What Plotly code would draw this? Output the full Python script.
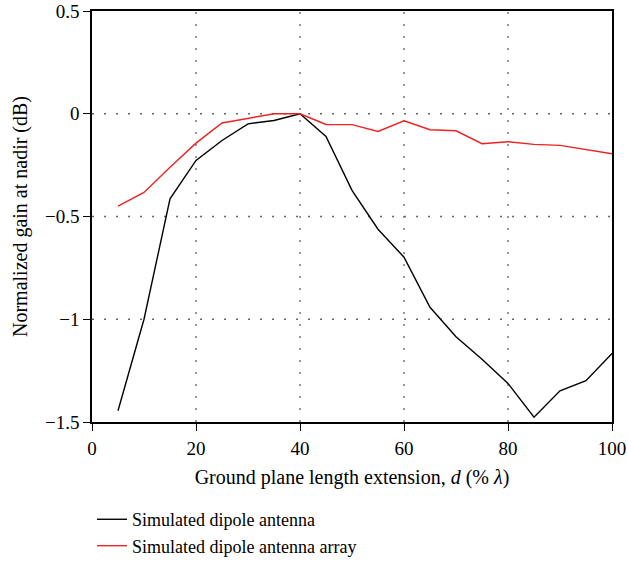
import plotly.graph_objects as go

# Ground plane length extension d (% of wavelength)
d_percent = [5, 10, 15, 20, 25, 30, 35, 40, 45, 50, 55, 60, 65, 70, 75, 80, 85, 90, 95, 100]

# Normalized gain at nadir (dB)
gain_dipole = [-1.445, -1.0, -0.414, -0.227, -0.130, -0.049, -0.033, 0.0, -0.110, -0.373,
               -0.562, -0.698, -0.942, -1.085, -1.195, -1.312, -1.477, -1.348, -1.299, -1.166]
gain_array = [-0.45, -0.383, -0.26, -0.143, -0.045, -0.021, 0.0, 0.0, -0.052, -0.053,
              -0.086, -0.034, -0.078, -0.083, -0.146, -0.136, -0.149, -0.154, -0.175, -0.195]

x_ticks = [0, 20, 40, 60, 80, 100]
y_ticks = [0.5, 0, -0.5, -1, -1.5]
y_tick_text = ["0.5", "0", "\u22120.5", "\u22121", "\u22121.5"]

FONT = "Liberation Serif"
GRID = dict(color="#666666", width=1.3, dash="2px,10px")

fig = go.Figure()
fig.add_trace(go.Scatter(x=d_percent, y=gain_dipole, mode="lines",
                         name="Simulated dipole antenna",
                         line=dict(color="black", width=1.4)))
fig.add_trace(go.Scatter(x=d_percent, y=gain_array, mode="lines",
                         name="Simulated dipole antenna array",
                         line=dict(color="#ee2222", width=1.4)))

# dotted grid lines
for gx in [20, 40, 60, 80]:
    fig.add_shape(type="line", xref="x", yref="paper", x0=gx, x1=gx, y0=0, y1=1,
                  line=GRID, layer="below")
for gy in [0, -0.5, -1]:
    fig.add_shape(type="line", xref="paper", yref="y", x0=0, x1=1, y0=gy, y1=gy,
                  line=GRID, layer="below")

fig.update_layout(
    width=628, height=563,
    margin=dict(l=92, r=16, t=11, b=141, autoexpand=False),
    paper_bgcolor="white", plot_bgcolor="white",
    font=dict(family=FONT, size=19, color="black"),
    showlegend=True,
    legend=dict(x=0.0, y=0.11, xanchor="left", yanchor="top", yref="container",
                font=dict(family=FONT, size=18), bgcolor="rgba(0,0,0,0)",
                itemwidth=30, tracegroupgap=0),
    xaxis=dict(range=[0, 100], tickvals=x_ticks, showgrid=False, zeroline=False,
               automargin=False,
               showline=True, linecolor="black", linewidth=1.5, mirror=True,
               ticks="outside", ticklen=7, tickwidth=1.2, tickcolor="black",
               tickfont=dict(family=FONT, size=19), ticklabelstandoff=1,
               title=dict(text="Ground plane length extension, <i>d</i> (% <i>\u03bb</i>)",
                          font=dict(family=FONT, size=20), standoff=12)),
    yaxis=dict(range=[-1.5, 0.5], tickvals=y_ticks, ticktext=y_tick_text,
               showgrid=False, zeroline=False, automargin=False,
               showline=True, linecolor="black", linewidth=1.5, mirror=True,
               ticks="outside", ticklen=7, tickwidth=1.2, tickcolor="black",
               tickfont=dict(family=FONT, size=19),
               title=dict(text="Normalized gain at nadir (dB)",
                          font=dict(family=FONT, size=20), standoff=12)),
)

fig.write_html("out.html")
